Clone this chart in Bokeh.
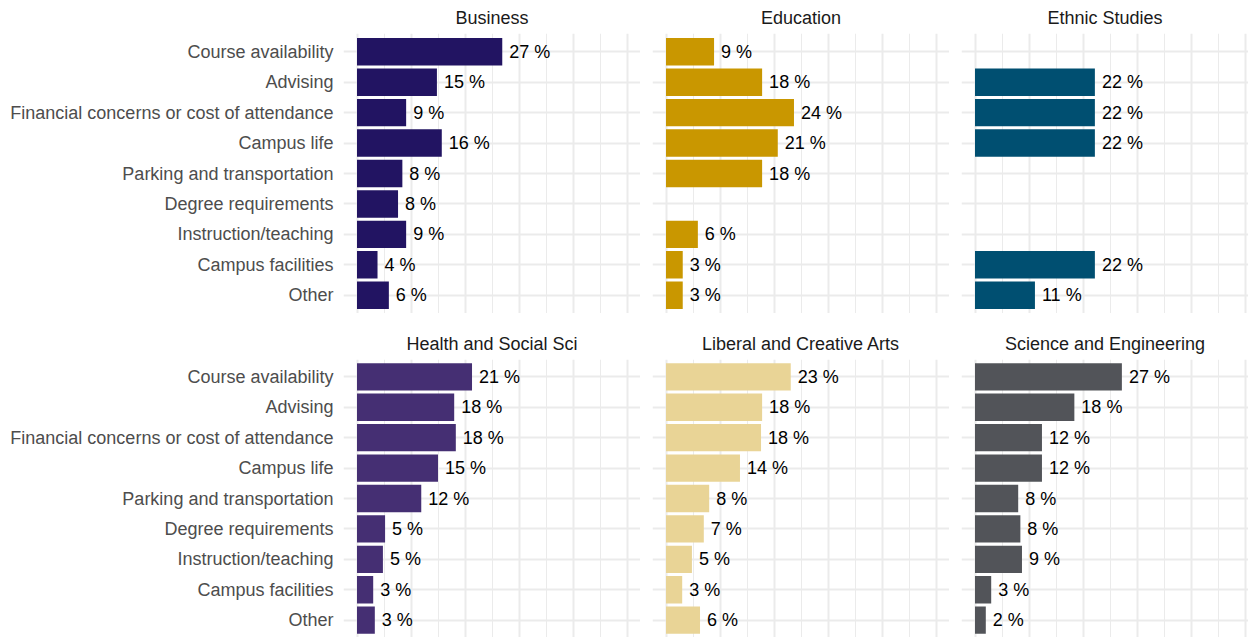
from bokeh.plotting import figure
from bokeh.layouts import column, row
from bokeh.models import FactorRange, Range1d, FixedTicker, ColumnDataSource
from bokeh.core.properties import value
from bokeh.embed import file_html
from bokeh.resources import INLINE

categories = ["Course availability", "Advising", "Financial concerns or cost of attendance",
              "Campus life", "Parking and transportation", "Degree requirements",
              "Instruction/teaching", "Campus facilities", "Other"]

colleges = ["Business", "Education", "Ethnic Studies",
            "Health and Social Sci", "Liberal and Creative Arts", "Science and Engineering"]

business = [26.9, 14.8, 9.1, 15.7, 8.4, 7.6, 9.1, 3.8, 5.9]
education = [8.9, 17.8, 23.7, 20.7, 17.8, None, 5.9, 3.1, 3.1]
ethnic_studies = [None, 22.2, 22.2, 22.2, None, None, None, 22.2, 11.1]
health_social = [21.3, 18.0, 18.3, 15.0, 11.9, 5.2, 4.8, 3.0, 3.3]
liberal_arts = [23.1, 17.8, 17.6, 13.7, 8.0, 7.0, 4.8, 3.0, 6.3]
science_eng = [27.2, 18.4, 12.4, 12.4, 8.0, 8.4, 8.7, 3.0, 2.0]

series = [business, education, ethnic_studies, health_social, liberal_arts, science_eng]
colors = ["#221462", "#C99700", "#004F71", "#452F73", "#E9D496", "#525459"]

major_ticks = [0, 10, 20, 30, 40, 50]
minor_ticks = [5, 15, 25, 35, 45]

FONT = "Liberation Sans"
FS = "18px"
PX_PER_UNIT = 5.4

def make_panel(i):
    col = i % 3
    rw = i // 3
    frame_w = 297 if col < 2 else 287
    left_b = 343 if col == 0 else 12
    if rw == 0:
        top_b, pad, frame_h = 33, 0.1, 280
    else:
        top_b, pad, frame_h = 46, 0.07, 278
    x_end = -2.5 + frame_w / PX_PER_UNIT
    yr = FactorRange(factors=categories[::-1], range_padding=pad, range_padding_units="absolute")
    p = figure(width=left_b + frame_w, height=top_b + frame_h,
               y_range=yr, x_range=Range1d(-2.5, x_end),
               output_backend="svg", toolbar_location=None,
               min_border_left=left_b, min_border_right=0,
               min_border_top=top_b, min_border_bottom=0)
    p.outline_line_color = None
    p.background_fill_color = "white"
    p.border_fill_color = "white"

    vals = series[i]
    ys = [c for c, v in zip(categories, vals) if v is not None]
    xs = [v for v in vals if v is not None]
    labels = [f"{round(v)} %" for v in xs]
    src = ColumnDataSource(dict(y=ys, x=xs, label=labels))
    p.hbar(y="y", right="x", left=0, height=0.9, source=src,
           fill_color=colors[i], line_color=None)
    p.text(x="x", y="y", text="label", source=src, x_offset=7,
           text_align="left", text_baseline="middle",
           text_font_size=value(FS), text_color="#000000", text_font=value(FONT))

    p.xaxis.ticker = FixedTicker(ticks=major_ticks, minor_ticks=minor_ticks)
    p.xgrid.ticker = FixedTicker(ticks=major_ticks, minor_ticks=minor_ticks)
    p.xaxis.visible = False
    p.xgrid.grid_line_color = "#EBEBEB"
    p.xgrid.grid_line_width = 2
    p.xgrid.minor_grid_line_color = "#EBEBEB"
    p.xgrid.minor_grid_line_width = 1
    p.ygrid.grid_line_color = "#EBEBEB"
    p.ygrid.grid_line_width = 2

    ax = p.yaxis[0]
    if col == 0:
        ax.axis_line_color = None
        ax.major_tick_line_color = None
        ax.minor_tick_line_color = None
        ax.major_tick_out = 0
        ax.major_tick_in = 0
        ax.major_label_standoff = 10
        ax.major_label_text_font_size = FS
        ax.major_label_text_color = "#4D4D4D"
        ax.major_label_text_font = FONT
    else:
        ax.visible = False

    t = p.title
    t.text = colleges[i]
    t.align = "center"
    t.vertical_align = "top"
    t.text_font = FONT
    t.text_font_size = FS
    t.text_font_style = "normal"
    t.text_color = "#1A1A1A"
    t.standoff = 8
    if col == 2:
        t.offset = 7
    return p

panels = [make_panel(i) for i in range(6)]
layout = column(row(*panels[:3], spacing=0), row(*panels[3:], spacing=0), spacing=0)

open("out.html", "w").write(file_html(layout, INLINE))
